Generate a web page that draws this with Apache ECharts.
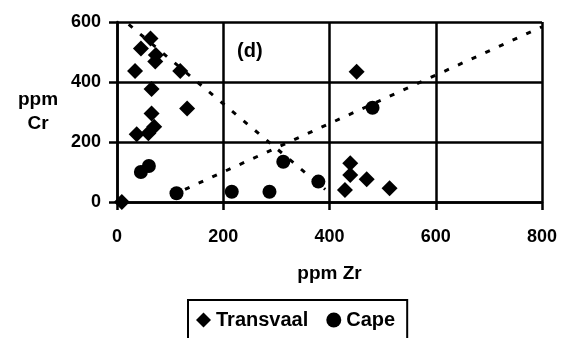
<!DOCTYPE html>
<html>
<head>
<meta charset="utf-8">
<script src="https://cdn.jsdelivr.net/npm/echarts@6/dist/echarts.min.js"></script>
<style>
html,body{margin:0;padding:0;background:#fff;}
#chart{width:563px;height:338px;}
</style>
</head>
<body>
<div id="chart"></div>
<script>
// Data
var transvaalX = [63, 45, 73, 72, 34, 119, 65, 132, 65, 37, 59, 70, 9, 451, 439, 439, 470, 429, 513];
var transvaalY = [545, 512, 490, 468, 437, 437, 377, 312, 295, 226, 229, 251, 0, 434, 129, 90, 76, 40, 46];
var capeX = [45, 60, 112, 216, 287, 313, 379, 481];
var capeY = [100, 120, 29, 34, 34, 134, 68, 314];
// trend lines (end points)
var transvaalTrendX = [22, 392];
var transvaalTrendY = [592, 42];
var capeTrendX = [128, 800];
var capeTrendY = [42, 584];
var xTicks = [0, 200, 400, 600, 800];
var yTicks = [0, 200, 400, 600];

function zip(a, b) { return a.map(function (v, i) { return [v, b[i]]; }); }

var FONT = '"Liberation Sans", Arial, sans-serif';
var chart = echarts.init(document.getElementById('chart'));
chart.setOption({
  animation: false,
  backgroundColor: '#fff',
  grid: { left: 117, right: 21, top: 22, bottom: 136 },
  xAxis: {
    type: 'value', min: xTicks[0], max: xTicks[xTicks.length - 1], interval: 200,
    name: 'ppm Zr', nameLocation: 'middle', nameGap: 62,
    nameTextStyle: { color: '#000', fontFamily: FONT, fontWeight: 'bold', fontSize: 19 },
    axisLine: { show: true, lineStyle: { color: '#000', width: 2.5 } },
    axisTick: { show: true, inside: false, length: 8, lineStyle: { color: '#000', width: 2.5 } },
    axisLabel: { color: '#000', fontFamily: FONT, fontWeight: 'bold', fontSize: 18, margin: 26 },
    splitLine: { show: true, lineStyle: { color: '#000', width: 2.5 } }
  },
  yAxis: {
    type: 'value', min: yTicks[0], max: yTicks[yTicks.length - 1], interval: 200,
    axisLine: { show: true, lineStyle: { color: '#000', width: 2.5 } },
    axisTick: { show: true, inside: false, length: 8, lineStyle: { color: '#000', width: 2.5 } },
    axisLabel: { color: '#000', fontFamily: FONT, fontWeight: 'bold', fontSize: 18, margin: 16 },
    splitLine: { show: true, lineStyle: { color: '#000', width: 2.5 } }
  },
  legend: {
    data: ['Transvaal', 'Cape'],
    left: 188, top: 300,
    orient: 'horizontal',
    borderColor: '#000', borderWidth: 2,
    padding: [10, 12, 14, 8],
    itemGap: 18, itemWidth: 15, itemHeight: 15,
    textStyle: { color: '#000', fontFamily: FONT, fontWeight: 'bold', fontSize: 20 }
  },
  graphic: [
    { type: 'text', left: 237, top: 41,
      style: { text: '(d)', fill: '#000', font: 'bold 20px ' + FONT } },
    { type: 'text', x: 38, y: 112,
      style: { text: 'ppm\nCr', fill: '#000', font: 'bold 19px ' + FONT,
               textAlign: 'center', textVerticalAlign: 'middle', lineHeight: 24 } }
  ],
  series: [
    { name: 'TransvaalTrend', type: 'line', data: zip(transvaalTrendX, transvaalTrendY),
      symbol: 'none', silent: true, z: 1,
      lineStyle: { color: '#000', width: 3, type: [5, 10] } },
    { name: 'CapeTrend', type: 'line', data: zip(capeTrendX, capeTrendY),
      symbol: 'none', silent: true, z: 1,
      lineStyle: { color: '#000', width: 3, type: [5, 10] } },
    { name: 'Transvaal', type: 'scatter', data: zip(transvaalX, transvaalY),
      symbol: 'diamond', symbolSize: 16, z: 3,
      itemStyle: { color: '#000', opacity: 1 } },
    { name: 'Cape', type: 'scatter', data: zip(capeX, capeY),
      symbol: 'circle', symbolSize: 14, z: 3,
      itemStyle: { color: '#000', opacity: 1 } }
  ]
});
</script>
</body>
</html>
